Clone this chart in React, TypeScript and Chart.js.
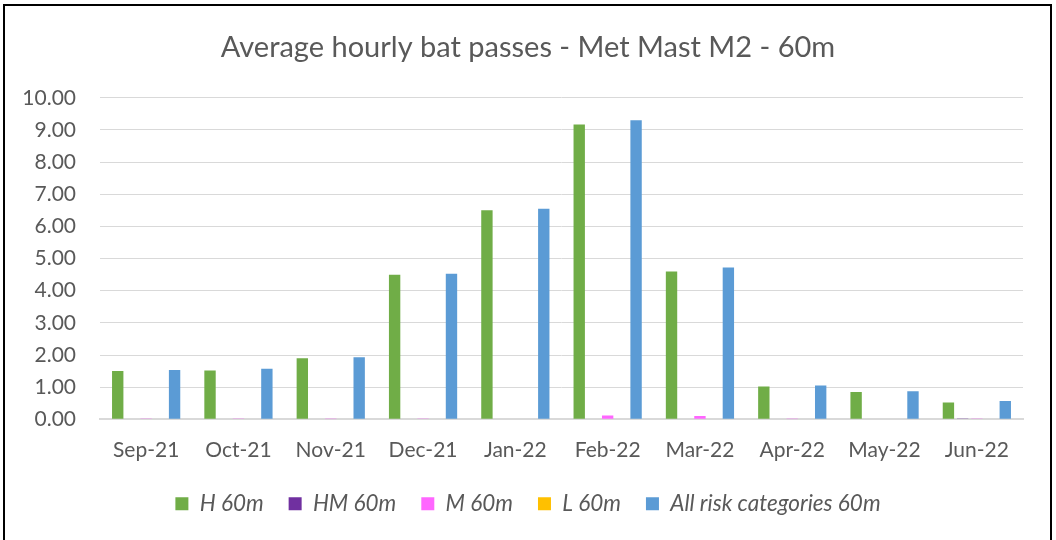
import React, { useEffect, useRef } from "react";
import { Chart, registerables } from "chart.js";

Chart.register(...registerables);

const categories = ["Sep-21", "Oct-21", "Nov-21", "Dec-21", "Jan-22", "Feb-22", "Mar-22", "Apr-22", "May-22", "Jun-22"];
const hValues = [1.5, 1.52, 1.9, 4.5, 6.5, 9.17, 4.6, 1.02, 0.85, 0.52];
const hmValues = [0, 0, 0, 0, 0, 0, 0, 0, 0, 0.01];
const mValues = [0.01, 0.01, 0.005, 0.01, 0.02, 0.12, 0.1, 0.005, 0, 0.01];
const lValues = [0, 0, 0, 0, 0, 0, 0, 0, 0, 0];
const allValues = [1.53, 1.57, 1.93, 4.53, 6.55, 9.3, 4.72, 1.05, 0.87, 0.57];

const FONT = "Lato, 'Open Sans', sans-serif";
const TEXT = "#595959";

export default function App() {
  const ref = useRef<HTMLCanvasElement | null>(null);
  useEffect(() => {
    document.body.style.margin = "0";
    const ctx = ref.current!;
    const mk = (label: string, data: number[], color: string) => ({
      label,
      data,
      backgroundColor: color,
      borderColor: color,
      borderWidth: 0,
      barPercentage: 0.8,
      categoryPercentage: 0.77,
    });
    const chart = new Chart(ctx, {
      type: "bar",
      data: {
        labels: categories,
        datasets: [
          mk("H 60m", hValues, "#70AD47"),
          mk("HM 60m", hmValues, "#7030A0"),
          mk("M 60m", mValues, "#FF66FF"),
          mk("L 60m", lValues, "#FFC000"),
          mk("All risk categories 60m", allValues, "#5B9BD5"),
        ],
      },
      options: {
        animation: false,
        responsive: false,
        devicePixelRatio: 1,
        layout: { padding: { left: 0, right: 0, top: 0, bottom: 15 } },
        plugins: {
          title: {
            display: true,
            text: "Average hourly bat passes - Met Mast M2 - 60m",
            color: TEXT,
            font: { family: FONT, size: 29, weight: "normal" },
            padding: { top: 30, bottom: 33 },
          },
          legend: {
            position: "bottom",
            labels: {
              color: TEXT,
              font: { family: FONT, size: 22.5, style: "italic" },
              boxWidth: 13,
              boxHeight: 13,
              padding: 25,
            },
          },
          tooltip: { enabled: false },
        },
        scales: {
          x: {
            grid: { display: false },
            border: { display: true, color: "#D9D9D9", width: 2 },
            ticks: { color: TEXT, font: { family: FONT, size: 21 }, padding: 10, maxRotation: 0 },
            afterFit: (s: any) => { s.height = s.height - 5; },
          },
          y: {
            min: 0,
            max: 10,
            afterFit: (s: any) => { s.width = 100; },
            grid: { color: "#D9D9D9", lineWidth: 1, drawTicks: false },
            border: { display: false },
            ticks: {
              stepSize: 1,
              color: TEXT,
              padding: 24,
              font: { family: FONT, size: 21 },
              callback: (v: any) => Number(v).toFixed(2),
            },
          },
          yRight: {
            position: "right",
            display: true,
            min: 0,
            max: 10,
            grid: { display: false, drawOnChartArea: false },
            border: { display: false },
            ticks: { display: false },
            afterFit: (s: any) => { s.width = 33; },
          },
        },
      },
    });
    return () => chart.destroy();
  }, []);
  return (
    <div style={{ position: "relative", width: 1056, height: 540, background: "#fff", overflow: "hidden" }}>
      <canvas ref={ref} width={1056} height={540} style={{ position: "absolute", left: 0, top: 0 }} />
      <div style={{ position: "absolute", left: 3, top: 4, width: 1045, height: 560, border: "2px solid #000", pointerEvents: "none" }} />
    </div>
  );
}
